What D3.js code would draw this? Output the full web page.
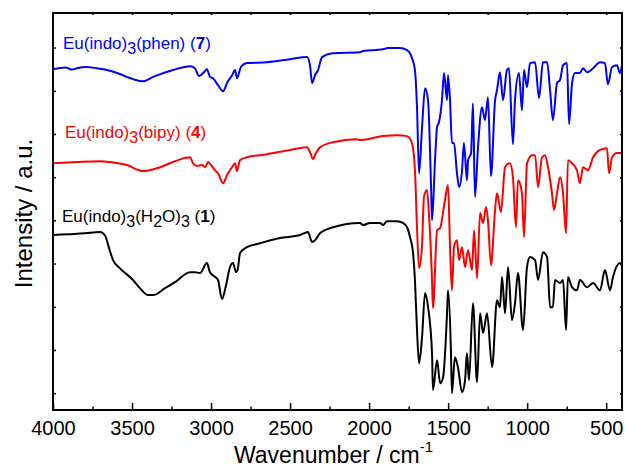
<!DOCTYPE html>
<html>
<head>
<meta charset="utf-8">
<script src="https://cdn.jsdelivr.net/npm/d3@7"></script>
<style>
  body { margin: 0; background: #fff; }
  svg text { font-family: "Liberation Sans", Arial, sans-serif; fill: #000; }
</style>
</head>
<body>
<div id="chart"></div>
<script>
// Stacked IR spectra of three Eu(indo)3 complexes

const WIDTH = 625
const HEIGHT = 467
const MARGIN = {TOP: 13, RIGHT: 3, BOTTOM: 57, LEFT: 53}

// wavenumber (cm-1), intensity (a.u., offset per trace)
const spectrumH2O = [
  [4000, 36.6], [3900, 36.8], [3800, 37.0], [3703, 37.3], [3671, 36.5], [3645, 33.5], [3620, 30.8],
  [3576, 28.9], [3494, 26.2], [3450, 24.3], [3399, 22.7], [3367, 22.7], [3291, 24.3], [3228, 25.7],
  [3133, 28.0], [3102, 28.0], [3070, 27.8], [3026, 30.1], [3007, 28.0], [2956, 26.2], [2931, 21.8],
  [2905, 25.0], [2880, 29.2], [2861, 30.1], [2842, 28.0], [2830, 28.9], [2817, 32.4], [2773, 33.8],
  [2690, 34.7], [2564, 35.9], [2437, 36.6], [2387, 37.3], [2361, 35.0], [2342, 35.4], [2311, 37.0],
  [2228, 38.4], [2058, 39.4], [2039, 38.9], [1994, 39.4], [1931, 39.4], [1912, 38.9], [1887, 39.8],
  [1824, 39.8], [1786, 39.4], [1760, 38.4], [1741, 36.1], [1722, 32.4], [1710, 26.2], [1697, 14.6],
  [1684, 6.9], [1665, 13.0], [1646, 23.2], [1627, 19.9], [1602, 9.3], [1596, 0.7], [1570, 7.6],
  [1551, 2.3], [1532, 3.7], [1507, 18.5], [1501, 23.8], [1482, 9.3], [1476, 0.0], [1457, 8.3],
  [1438, 6.0], [1412, 0.2], [1393, 3.0], [1381, 9.3], [1368, 3.0], [1343, 20.8], [1317, 2.5],
  [1298, 18.5], [1279, 13.9], [1254, 18.5], [1222, 6.0], [1191, 21.5], [1172, 19.9], [1159, 26.9],
  [1140, 18.5], [1121, 29.2], [1096, 16.9], [1077, 20.8], [1058, 27.8], [1026, 14.6], [1001, 29.2],
  [982, 31.5], [950, 30.8], [931, 26.2], [900, 32.6], [874, 31.5], [855, 19.9], [837, 19.9],
  [824, 26.2], [792, 25.5], [773, 26.2], [754, 14.6], [742, 26.9], [716, 24.5], [685, 23.8],
  [666, 26.2], [621, 24.5], [583, 25.5], [539, 23.8], [508, 28.5], [476, 23.8], [457, 26.9],
  [413, 30.1], [400, 29.5]
]

const spectrumBipy = [
  [4000, 53.2], [3850, 53.5], [3703, 53.7], [3639, 53.5], [3532, 52.8], [3431, 51.4], [3323, 52.3],
  [3241, 53.5], [3133, 54.6], [3114, 53.2], [3089, 52.6], [3057, 52.8], [3038, 52.3], [3019, 53.5],
  [3000, 52.8], [2975, 51.6], [2956, 50.9], [2924, 48.6], [2899, 50.5], [2867, 52.3], [2848, 53.2],
  [2836, 51.4], [2817, 53.9], [2773, 54.6], [2646, 55.3], [2500, 56.3], [2393, 56.9], [2374, 55.8],
  [2355, 54.2], [2336, 55.6], [2311, 56.9], [2228, 58.1], [2077, 58.8], [2058, 58.6], [1912, 59.5],
  [1824, 59.7], [1760, 59.5], [1729, 57.9], [1710, 51.6], [1697, 38.4], [1684, 28.9], [1665, 34.3],
  [1653, 45.4], [1634, 47.0], [1621, 41.2], [1602, 26.2], [1596, 19.7], [1570, 37.7], [1551, 38.2],
  [1520, 44.7], [1501, 48.2], [1488, 33.8], [1476, 23.8], [1463, 33.8], [1444, 35.4], [1431, 30.8],
  [1412, 33.8], [1393, 29.2], [1374, 33.1], [1349, 28.5], [1336, 37.7], [1317, 26.6], [1298, 41.7],
  [1279, 39.4], [1260, 43.1], [1248, 40.0], [1229, 29.6], [1203, 42.4], [1191, 46.3], [1184, 45.4],
  [1166, 41.9], [1140, 52.3], [1109, 53.2], [1090, 50.0], [1071, 38.4], [1058, 49.3], [1033, 46.3],
  [1020, 36.1], [1001, 53.2], [969, 55.1], [950, 55.1], [931, 47.7], [906, 54.6], [887, 55.1],
  [868, 52.3], [843, 46.3], [830, 42.4], [811, 46.3], [792, 50.0], [773, 46.3], [754, 37.0],
  [742, 53.9], [716, 53.2], [685, 51.6], [666, 48.6], [647, 52.3], [615, 51.6], [583, 54.6],
  [539, 56.3], [495, 56.7], [482, 50.9], [463, 54.6], [432, 55.6], [400, 55.6]
]

const spectrumPhen = [
  [4000, 75.0], [3920, 75.4], [3880, 74.9], [3848, 75.2], [3790, 75.5], [3722, 75.2], [3658, 74.8],
  [3595, 74.1], [3494, 72.7], [3431, 72.2], [3367, 73.2], [3241, 74.8], [3133, 75.7], [3102, 75.2],
  [3076, 73.4], [3045, 74.3], [3026, 75.0], [3007, 73.2], [2988, 72.9], [2956, 71.3], [2924, 69.9],
  [2899, 71.8], [2867, 73.6], [2848, 74.8], [2836, 72.9], [2811, 75.5], [2773, 76.4], [2646, 76.6],
  [2500, 77.3], [2393, 77.8], [2374, 75.9], [2361, 71.8], [2342, 73.6], [2323, 74.8], [2298, 77.8],
  [2228, 78.7], [2058, 78.9], [2039, 79.2], [1912, 79.6], [1880, 79.9], [1805, 79.9], [1760, 79.4],
  [1729, 77.6], [1710, 74.8], [1697, 66.2], [1684, 50.9], [1665, 61.6], [1646, 70.6], [1627, 67.8],
  [1608, 47.7], [1602, 40.0], [1583, 53.9], [1570, 61.6], [1558, 62.7], [1539, 67.8], [1526, 74.1],
  [1507, 67.8], [1501, 73.6], [1488, 67.8], [1476, 57.9], [1463, 57.9], [1444, 50.9], [1431, 47.7],
  [1412, 51.6], [1400, 57.9], [1381, 49.3], [1374, 53.9], [1355, 55.6], [1343, 67.1], [1330, 45.4],
  [1311, 56.9], [1286, 66.2], [1267, 63.2], [1248, 68.5], [1229, 50.2], [1203, 67.8], [1191, 70.1],
  [1172, 74.3], [1153, 67.8], [1128, 74.8], [1115, 75.2], [1090, 57.6], [1077, 67.8], [1052, 74.1],
  [1033, 65.5], [1020, 74.8], [1001, 70.8], [982, 76.4], [950, 76.6], [925, 68.3], [900, 76.6],
  [874, 76.6], [855, 70.1], [837, 63.2], [811, 71.8], [792, 72.5], [773, 75.9], [748, 76.4],
  [735, 62.3], [716, 71.8], [697, 74.1], [666, 74.1], [647, 75.2], [621, 74.3], [583, 75.2],
  [539, 76.6], [508, 76.4], [489, 71.5], [463, 75.5], [432, 75.9], [413, 74.1], [400, 75.9]
]

const seriesColors = ["#000000", "#ff0000", "#0000ff"]

// label text split into [text, style] runs
const seriesLabels = [
  [["Eu(indo)"], ["3", "sub"], ["(H"], ["2", "sub"], ["O)"], ["3", "sub"], [" ("], ["1", "bold"], [")"]],
  [["Eu(indo)"], ["3", "sub"], ["(bipy) ("], ["4", "bold"], [")"]],
  [["Eu(indo)"], ["3", "sub"], ["(phen) ("], ["7", "bold"], [")"]]
]
const labelAnchors = [[3943, 39.6], [3924, 59.0], [3937, 79.6]]

const xMajorTicks = [4000, 3500, 3000, 2500, 2000, 1500, 1000, 500]
const xMinorTicks = [3750, 3250, 2750, 2250, 1750, 1250, 750]
const yTicks = [0, 10, 20, 30, 40, 50, 60, 70, 80]

const svg = d3.select("#chart")
  .append("svg")
  .attr("width", WIDTH)
  .attr("height", HEIGHT)

const x = d3.scaleLinear()
  .domain([4000, 400])
  .range([MARGIN.LEFT, WIDTH - MARGIN.RIGHT])

const y = d3.scaleLinear()
  .domain([-3.9, 88])
  .range([HEIGHT - MARGIN.BOTTOM, MARGIN.TOP])

const plotBottom = HEIGHT - MARGIN.BOTTOM
const plotRight = WIDTH - MARGIN.RIGHT

// spectra
const line = d3.line()
  .x(d => x(d[0]))
  .y(d => y(d[1]))
  .curve(d3.curveMonotoneX)

const allSpectra = [spectrumH2O, spectrumBipy, spectrumPhen]
svg.append("g")
  .selectAll("path")
  .data(allSpectra)
  .enter()
  .append("path")
    .attr("d", line)
    .attr("fill", "none")
    .attr("stroke", (d, i) => seriesColors[i])
    .attr("stroke-width", 2)
    .attr("stroke-linejoin", "round")

// axes, all ticks pointing inward
function styleAxis(g) {
  g.select(".domain").remove()
  g.selectAll(".tick line").attr("stroke", "#000").attr("stroke-width", 1.5)
}

svg.append("g")
  .attr("transform", `translate(0,${plotBottom})`)
  .call(d3.axisBottom(x).tickValues(xMajorTicks).tickSize(-7).tickPadding(11).tickFormat(d3.format("d")))
  .call(styleAxis)
  .call(g => g.selectAll("text").attr("font-size", 20).attr("font-family", "Liberation Sans, Arial, sans-serif"))

svg.append("g")
  .attr("transform", `translate(0,${plotBottom})`)
  .call(d3.axisBottom(x).tickValues(xMinorTicks).tickSize(-3.5).tickFormat(""))
  .call(styleAxis)

svg.append("g")
  .attr("transform", `translate(0,${MARGIN.TOP})`)
  .call(d3.axisTop(x).tickValues(xMajorTicks.concat(xMinorTicks)).tickSize(-2).tickFormat(""))
  .call(styleAxis)

svg.append("g")
  .attr("transform", `translate(${MARGIN.LEFT},0)`)
  .call(d3.axisLeft(y).tickValues(yTicks).tickSize(-3).tickFormat(""))
  .call(styleAxis)

svg.append("g")
  .attr("transform", `translate(${plotRight},0)`)
  .call(d3.axisRight(y).tickValues(yTicks).tickSize(-2).tickFormat(""))
  .call(styleAxis)

// frame
svg.append("rect")
  .attr("x", MARGIN.LEFT)
  .attr("y", MARGIN.TOP)
  .attr("width", plotRight - MARGIN.LEFT)
  .attr("height", plotBottom - MARGIN.TOP)
  .attr("fill", "none")
  .attr("stroke", "#000")
  .attr("stroke-width", 2)

// trace labels
seriesLabels.forEach((runs, i) => {
  const t = svg.append("text")
    .attr("x", x(labelAnchors[i][0]))
    .attr("y", y(labelAnchors[i][1]))
    .attr("font-size", 17)
    .style("fill", seriesColors[i])
  let shifted = false
  runs.forEach(([txt, kind]) => {
    const ts = t.append("tspan").text(txt).style("fill", seriesColors[i])
    if (kind === "sub") {
      ts.attr("dy", shifted ? 0 : 5).attr("font-size", 16)
      shifted = true
    } else {
      if (shifted) ts.attr("dy", -5)
      shifted = false
      if (kind === "bold") ts.attr("font-weight", "bold")
    }
  })
})

// axis titles
const xTitle = svg.append("text")
  .attr("x", (MARGIN.LEFT + plotRight) / 2 - 4)
  .attr("y", 463)
  .attr("text-anchor", "middle")
  .attr("font-size", 23)
xTitle.append("tspan").text("Wavenumber / cm")
xTitle.append("tspan").text("-1").attr("font-size", 15).attr("dy", -11)

svg.append("text")
  .attr("transform", `translate(32,${(MARGIN.TOP + plotBottom) / 2 + 2}) rotate(-90)`)
  .attr("text-anchor", "middle")
  .attr("font-size", 24)
  .text("Intensity / a.u.")
</script>
</body>
</html>
